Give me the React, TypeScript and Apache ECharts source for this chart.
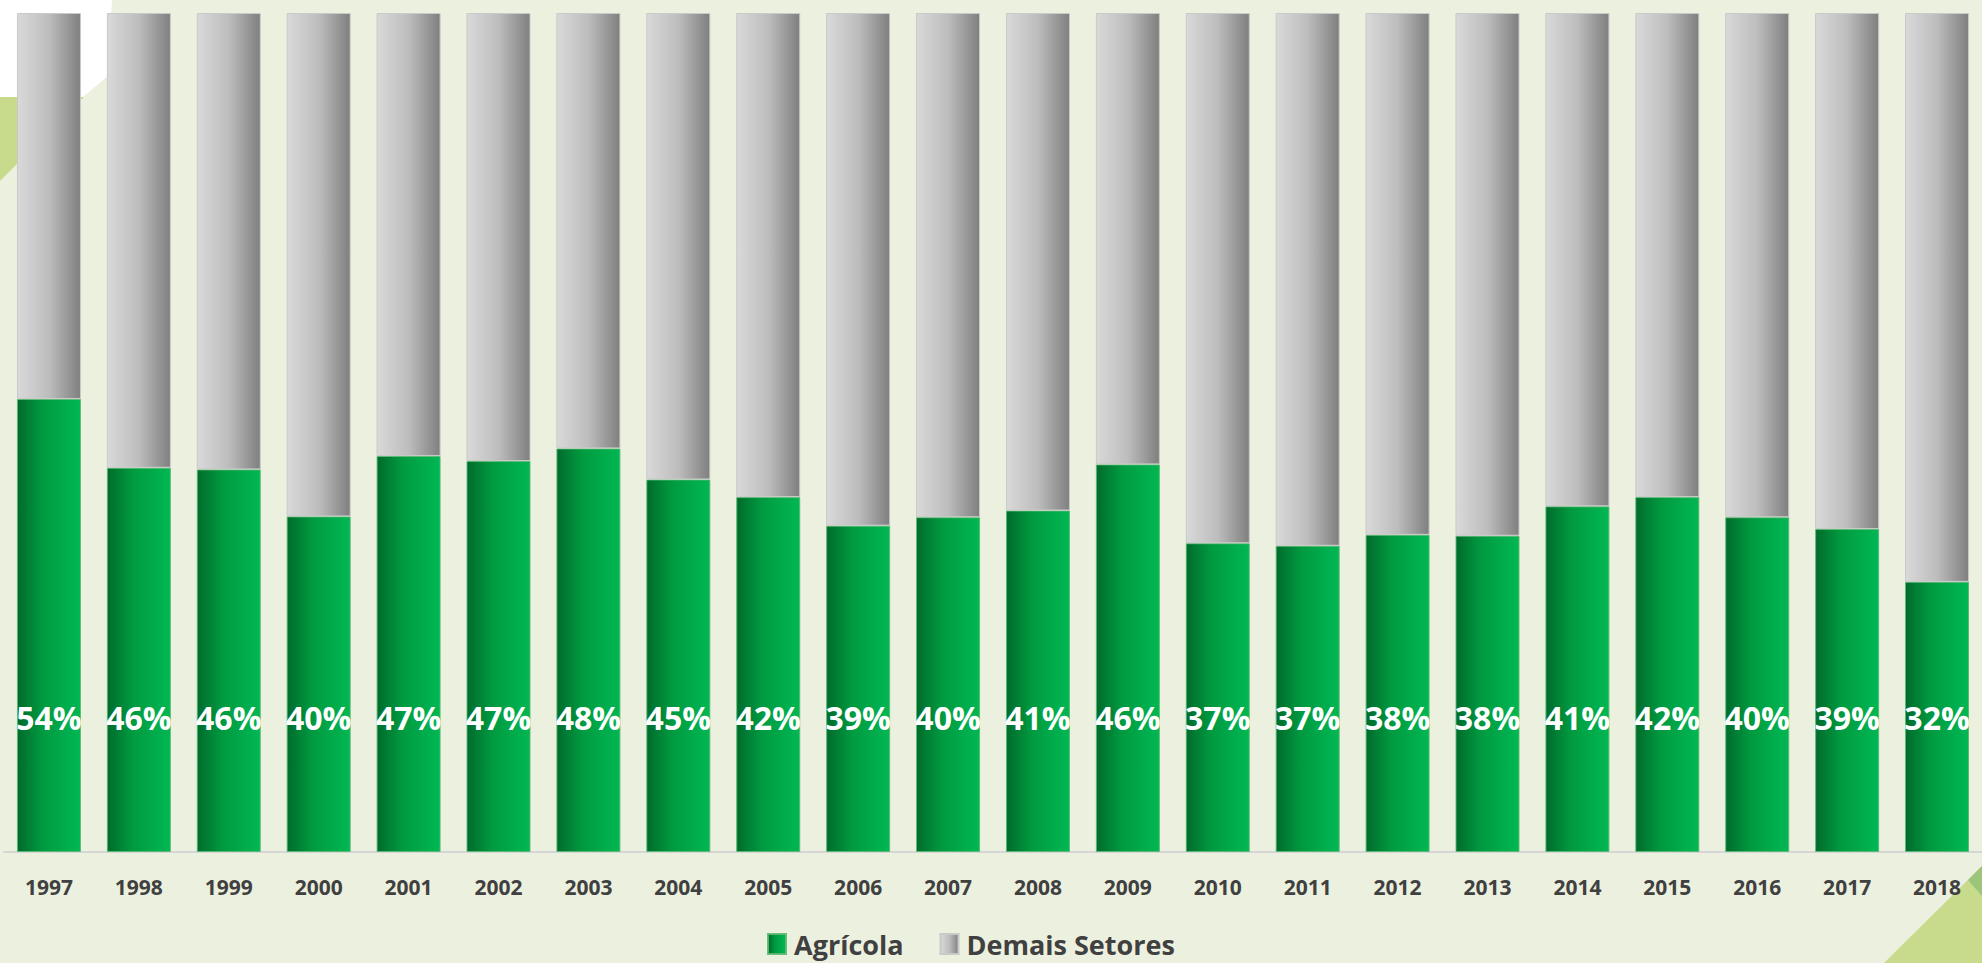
import React, { useEffect, useRef } from "react";
import * as echarts from "echarts";

const years = ["1997","1998","1999","2000","2001","2002","2003","2004","2005","2006","2007","2008","2009","2010","2011","2012","2013","2014","2015","2016","2017","2018"];
const agricola = [54.0, 45.8, 45.6, 40.0, 47.2, 46.6, 48.1, 44.4, 42.3, 38.9, 39.9, 40.7, 46.2, 36.8, 36.5, 37.8, 37.7, 41.2, 42.3, 39.9, 38.5, 32.2];
const demais = [46.0, 54.2, 54.4, 60.0, 52.8, 53.4, 51.9, 55.6, 57.7, 61.1, 60.1, 59.3, 53.8, 63.2, 63.5, 62.2, 62.3, 58.8, 57.7, 60.1, 61.5, 67.8];
const agricolaLabels = ["54%","46%","46%","40%","47%","47%","48%","45%","42%","39%","40%","41%","46%","37%","37%","38%","38%","41%","42%","40%","39%","32%"];

const FONT = "'Open Sans', 'Noto Sans', sans-serif";

const greenGrad = () => new echarts.graphic.LinearGradient(0, 0, 1, 0, [
  { offset: 0, color: "#006B2C" },
  { offset: 0.4, color: "#009A40" },
  { offset: 1, color: "#00B853" },
]);
const grayGrad = () => new echarts.graphic.LinearGradient(0, 0, 1, 0, [
  { offset: 0, color: "#D9D9D9" },
  { offset: 0.5, color: "#BDBDBD" },
  { offset: 1, color: "#7F7F7F" },
]);

export default function App() {
  const ref = useRef<HTMLDivElement>(null);
  useEffect(() => {
    if (!ref.current) return;
    const chart = echarts.init(ref.current, null, { renderer: "svg" });
    chart.setOption({
      animation: false,
      backgroundColor: "#ECF0DF",
      graphic: [
        { type: "polygon", z: 0, silent: true, shape: { points: [[0,0],[112,0],[108,76],[83,97],[0,97]] }, style: { fill: "#FFFFFF" } },
        { type: "polygon", z: 0, silent: true, shape: { points: [[0,97],[84,97],[0,181]] }, style: { fill: "#C8DB8C" } },
        { type: "polygon", z: 0, silent: true, shape: { points: [[1884,963],[1982,866],[1982,963]] }, style: { fill: "#C8DB8C" } },
        { type: "polygon", z: 0, silent: true, shape: { points: [[1968,880],[1982,866],[1982,896]] }, style: { fill: "#9CC47A" } },
      ],
      grid: { left: 4, top: 13, width: 1988, height: 839, containLabel: false },
      legend: {
        left: 762,
        top: 925,
        itemWidth: 18,
        itemHeight: 20,
        itemGap: 36,
        icon: "rect",
        textStyle: { fontFamily: FONT, fontWeight: "bold", fontSize: 27, lineHeight: 28, color: "#404040", padding: [0, 0, 0, 3] },
        data: ["Agrícola", "Demais Setores"],
      },
      xAxis: {
        type: "category",
        data: years,
        axisLine: { show: true, lineStyle: { color: "#D6D6D6", width: 2 } },
        axisTick: { show: false },
        axisLabel: { color: "#404040", fontFamily: FONT, fontWeight: "bold", fontSize: 21, margin: 24 },
      },
      yAxis: { type: "value", min: 0, max: 100, show: false, splitLine: { show: false } },
      series: [
        {
          name: "Agrícola",
          type: "bar",
          stack: "total",
          barWidth: 64,
          data: agricola,
          itemStyle: { color: greenGrad(), borderColor: "rgba(90,185,115,0.9)", borderWidth: 1 },
          label: {
            show: true,
            position: "insideBottom",
            distance: 135,
            verticalAlign: "middle",
            color: "#FFFFFF",
            fontFamily: FONT,
            fontWeight: "bold",
            fontSize: 32,
            formatter: (p: any) => agricolaLabels[p.dataIndex],
          },
        },
        {
          name: "Demais Setores",
          type: "bar",
          stack: "total",
          barWidth: 64,
          data: demais,
          itemStyle: { color: grayGrad(), borderColor: "#C9C9C9", borderWidth: 1 },
        },
      ],
    });
    return () => chart.dispose();
  }, []);
  return <div ref={ref} style={{ position: "fixed", left: 0, top: 0, width: 1982, height: 963 }} />;
}
